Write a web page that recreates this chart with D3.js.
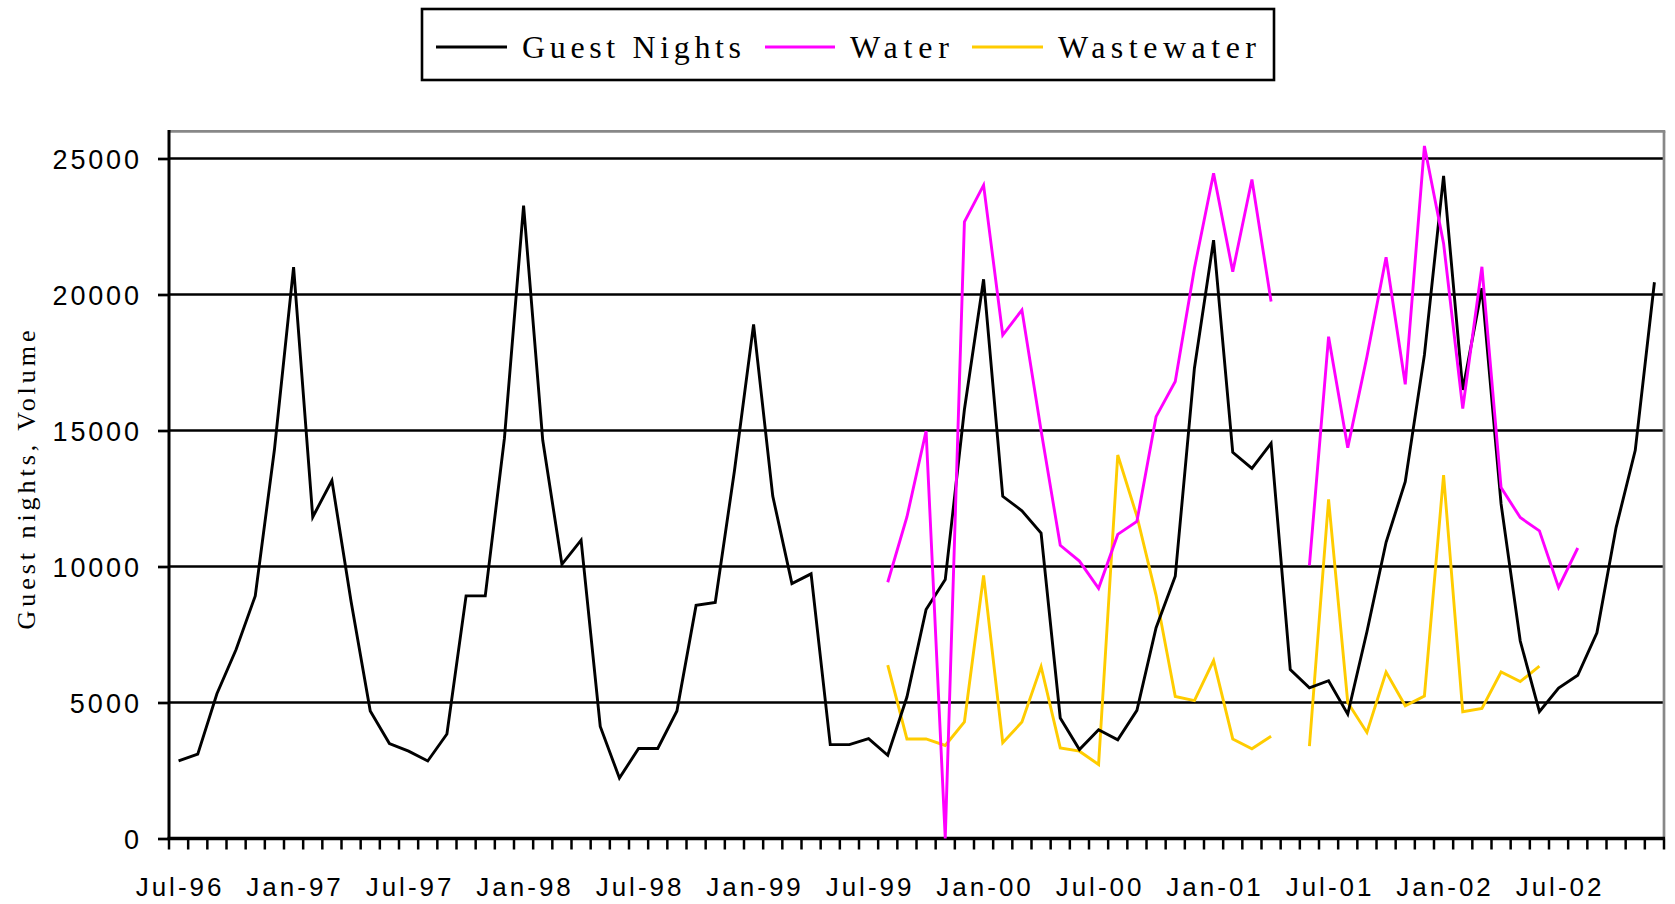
<!DOCTYPE html>
<html>
<head>
<meta charset="utf-8">
<script src="https://cdn.jsdelivr.net/npm/d3@7"></script>
<style>
  html, body { margin: 0; padding: 0; background: #fff; }
  svg { display: block; }
</style>
</head>
<body>
<svg id="chart" width="1675" height="904"></svg>
<script>
// ---------------- DATA ----------------
const months = [
  "Jul-96","Aug-96","Sep-96","Oct-96","Nov-96","Dec-96",
  "Jan-97","Feb-97","Mar-97","Apr-97","May-97","Jun-97",
  "Jul-97","Aug-97","Sep-97","Oct-97","Nov-97","Dec-97",
  "Jan-98","Feb-98","Mar-98","Apr-98","May-98","Jun-98",
  "Jul-98","Aug-98","Sep-98","Oct-98","Nov-98","Dec-98",
  "Jan-99","Feb-99","Mar-99","Apr-99","May-99","Jun-99",
  "Jul-99","Aug-99","Sep-99","Oct-99","Nov-99","Dec-99",
  "Jan-00","Feb-00","Mar-00","Apr-00","May-00","Jun-00",
  "Jul-00","Aug-00","Sep-00","Oct-00","Nov-00","Dec-00",
  "Jan-01","Feb-01","Mar-01","Apr-01","May-01","Jun-01",
  "Jul-01","Aug-01","Sep-01","Oct-01","Nov-01","Dec-01",
  "Jan-02","Feb-02","Mar-02","Apr-02","May-02","Jun-02",
  "Jul-02","Aug-02","Sep-02","Oct-02","Nov-02","Dec-02"
];

const guestNights = [
  2850, 3100, 5320, 6950, 8920, 14290,
  21010, 11820, 13160, 8710, 4690, 3490,
  3210, 2850, 3840, 8920, 8920, 14710,
  23270, 14640, 10080, 10970, 4120, 2220,
  3310, 3310, 4690, 8570, 8680, 13510,
  18900, 12590, 9370, 9730, 3450, 3450,
  3670, 3060, 5200, 8420, 9520, 15770,
  20560, 12580, 12050, 11230, 4430, 3270,
  4000, 3630, 4710, 7750, 9640, 17290,
  22000, 14200, 13610, 14530, 6210, 5540,
  5800, 4570, 7600, 10890, 13120, 17780,
  24360, 16490, 20230, 12300, 7260, 4660,
  5530, 6000, 7560, 11430, 14270, 20450
];

const water = [
  null, null, null, null, null, null,
  null, null, null, null, null, null,
  null, null, null, null, null, null,
  null, null, null, null, null, null,
  null, null, null, null, null, null,
  null, null, null, null, null, null,
  null, 9420, 11820, 14980, 0, 22670,
  24020, 18510, 19430, 15000, 10780, 10200,
  9200, 11180, 11660, 15510, 16800, 20960,
  24460, 20840, 24230, 19740, null, 10040,
  18450, 14370, 17710, 21370, 16700, 25460,
  21880, 15810, 21020, 12900, 11800, 11310,
  9230, 10680, null, null, null, null
];

const wastewater = [
  null, null, null, null, null, null,
  null, null, null, null, null, null,
  null, null, null, null, null, null,
  null, null, null, null, null, null,
  null, null, null, null, null, null,
  null, null, null, null, null, null,
  null, 6370, 3660, 3660, 3420, 4290,
  9670, 3520, 4280, 6320, 3330, 3210,
  2720, 14100, 11850, 8940, 5220, 5070,
  6540, 3660, 3300, 3760, null, 3400,
  12470, 5000, 3900, 6120, 4880, 5240,
  13360, 4660, 4780, 6120, 5770, 6340,
  null, null, null, null, null, null
];

const yTicks = [0, 5000, 10000, 15000, 20000, 25000];
const xLabelEvery = 6;
const seriesNames = ["Guest Nights", "Water", "Wastewater"];
const seriesColors = ["#000000", "#FF00FF", "#FFCC00"];
const yTitle = "Guest nights, Volume";

// ---------------- LAYOUT ----------------
(function () {
const svg = d3.select("#chart");
const pLeft = 169, pRight = 1664, pTop = 131.3, pBottom = 838.5;

svg.append("rect").attr("x", 0).attr("y", 0).attr("width", 1675).attr("height", 904).attr("fill", "#fff");

const x = d3.scaleBand().domain(months).range([pLeft, pRight]).padding(0);
const y = d3.scaleLinear().domain([0, 26000]).range([pBottom, pTop]);

// gridlines
svg.append("g").selectAll("line").data(yTicks.filter(d => d > 0)).join("line")
  .attr("x1", pLeft).attr("x2", pRight)
  .attr("y1", d => y(d)).attr("y2", d => y(d))
  .attr("stroke", "#000").attr("stroke-width", 2.7);

// top & right plot border (grey)
svg.append("line").attr("x1", pLeft).attr("x2", pRight + 1.3).attr("y1", pTop).attr("y2", pTop)
  .attr("stroke", "#888").attr("stroke-width", 2.7);
svg.append("line").attr("x1", pRight).attr("x2", pRight).attr("y1", pTop).attr("y2", pBottom)
  .attr("stroke", "#888").attr("stroke-width", 2.7);

// Y axis
const yAxis = d3.axisLeft(y).tickValues(yTicks).tickSize(11).tickFormat(d => String(d));
const gy = svg.append("g").attr("transform", `translate(${pLeft},0)`).call(yAxis);
gy.select(".domain").remove();
gy.selectAll(".tick line").attr("stroke", "#000").attr("stroke-width", 2.7);
gy.selectAll(".tick text")
  .attr("x", -30)
  .attr("dy", "0.37em")
  .style("font-family", "'Liberation Sans', Arial, sans-serif")
  .style("font-size", "27px")
  .style("fill", "#000")
  .each(function(d) {
    const s = String(d);
    if (s.length > 1) d3.select(this).attr("textLength", s.length * 17.3).attr("lengthAdjust", "spacing");
  });

// left axis line
svg.append("line").attr("x1", pLeft).attr("x2", pLeft).attr("y1", pTop - 1.3).attr("y2", pBottom + 1.5)
  .attr("stroke", "#000").attr("stroke-width", 3);

// bottom axis: ticks at category boundaries
const boundaries = months.map(m => x(m)).concat([pRight]);
svg.append("g").selectAll("line").data(boundaries).join("line")
  .attr("x1", d => d).attr("x2", d => d)
  .attr("y1", pBottom).attr("y2", pBottom + 11)
  .attr("stroke", "#000").attr("stroke-width", 2.5);
svg.append("line").attr("x1", pLeft - 1.5).attr("x2", pRight + 1).attr("y1", pBottom).attr("y2", pBottom)
  .attr("stroke", "#000").attr("stroke-width", 3.4);

// x labels
svg.append("g").selectAll("text").data(months.filter((m, i) => i % xLabelEvery === 0)).join("text")
  .attr("x", d => x(d) + x.bandwidth() / 2 + 1.5)
  .attr("y", 896)
  .attr("text-anchor", "middle")
  .style("font-family", "'Liberation Sans', Arial, sans-serif")
  .style("font-size", "26px")
  .style("letter-spacing", "3px")
  .style("fill", "#000")
  .text(d => d);

// y title
svg.append("text")
  .attr("transform", `translate(35,480) rotate(-90)`)
  .attr("text-anchor", "middle")
  .attr("textLength", 299).attr("lengthAdjust", "spacing")
  .style("font-family", "'Liberation Serif', 'Times New Roman', serif")
  .style("font-size", "26px")
  .style("fill", "#000")
  .text(yTitle);

// series lines
const cx = i => x(months[i]) + x.bandwidth() / 2;
const line = d3.line()
  .defined(d => d !== null)
  .x((d, i) => cx(i))
  .y(d => y(d));

const seriesData = [guestNights, water, wastewater];
[wastewater, guestNights, water].forEach(arr => {
  const idx = seriesData.indexOf(arr);
  svg.append("path")
    .datum(arr)
    .attr("d", line)
    .attr("fill", "none")
    .attr("stroke", seriesColors[idx])
    .attr("stroke-width", 2.9)
    .attr("stroke-linejoin", "miter")
    .attr("stroke-miterlimit", 4);
});

// legend
const lg = svg.append("g");
lg.append("rect").attr("x", 422).attr("y", 9).attr("width", 852).attr("height", 71)
  .attr("fill", "#fff").attr("stroke", "#000").attr("stroke-width", 2.6);
const legendItems = [
  { lx1: 436, lx2: 507, tx: 522, tw: 219 },
  { lx1: 765, lx2: 835, tx: 850, tw: 99 },
  { lx1: 972, lx2: 1043, tx: 1058, tw: 198 }
];
legendItems.forEach((it, i) => {
  lg.append("line").attr("x1", it.lx1).attr("x2", it.lx2).attr("y1", 47).attr("y2", 47)
    .attr("stroke", seriesColors[i]).attr("stroke-width", 3);
  lg.append("text")
    .attr("x", it.tx).attr("y", 58)
    .attr("textLength", it.tw).attr("lengthAdjust", "spacing")
    .style("font-family", "'Liberation Serif', 'Times New Roman', serif")
    .style("font-size", "32px")
    .style("fill", "#000")
    .text(seriesNames[i]);
});
})();
</script>
</body>
</html>
